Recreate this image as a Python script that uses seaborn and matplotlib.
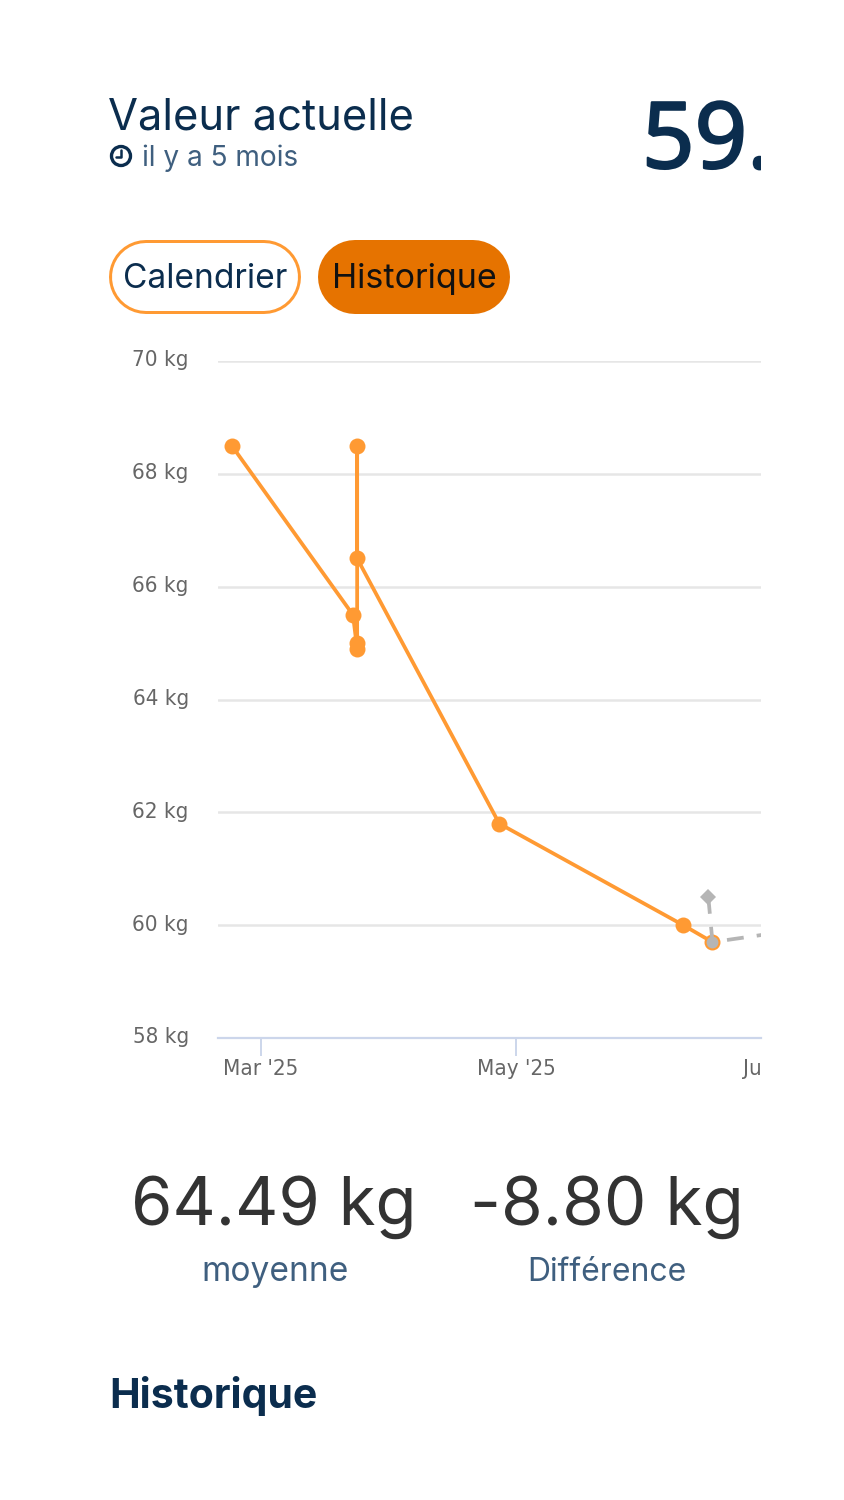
import pandas as pd
import matplotlib
matplotlib.use('Agg')
import matplotlib.pyplot as plt
import matplotlib.dates as mdates
import matplotlib.patheffects as pe
from matplotlib.patches import Circle, Rectangle
from matplotlib.transforms import ScaledTranslation
import seaborn as sns

# data
dates = ['2025-02-22', '2025-03-23', '2025-03-24', '2025-03-24', '2025-03-24', '2025-03-24',
         '2025-04-27', '2025-06-10', '2025-06-17']
weights = [68.5, 65.5, 64.9, 65.0, 68.5, 66.5, 61.8, 60.0, 59.7]
goal_dates = ['2025-06-16', '2025-06-17', '2025-07-01']
goal_weights = [60.5, 59.7, 59.85]
y_ticks = [58, 60, 62, 64, 66, 68, 70]
x_ticks = ['2025-03-01', '2025-05-01']
x_labels = ["Mar '25", "May '25"]

NAVY = '#0b2d4e'
SLATE = '#3f5f7f'
ORANGE = '#ff9a33'
DARK_ORANGE = '#e67300'
GREY = '#b5b5b5'
AXIS = '#ccd6eb'
LABEL = '#666666'
W, H = 844, 1500

sns.set_theme(style='white')
plt.rcParams['font.family'] = ['Inter', 'DejaVu Sans']

df = pd.DataFrame({'date': pd.to_datetime(dates), 'kg': weights})
goal = pd.DataFrame({'date': pd.to_datetime(goal_dates), 'kg': goal_weights})

fig = plt.figure(figsize=(W / 100, H / 100), dpi=100, facecolor='white')

# chart area in pixels: x 218-761, y 361-1038
ax = fig.add_axes([218 / W, 1 - 1038 / H, (761 - 218) / W, (1038 - 361) / H])
sns.lineplot(data=df, x='date', y='kg', sort=False, estimator=None, ax=ax, color=ORANGE,
             linewidth=2.7, marker='o', markersize=11.5, markeredgewidth=0, zorder=3, clip_on=False)
sns.lineplot(data=goal, x='date', y='kg', sort=False, estimator=None, ax=ax, color=GREY,
             linewidth=2.7, linestyle=(0, (4.5, 3.5)), zorder=4)
ax.plot(goal['date'][:1], goal['kg'][:1], marker='D', ms=8.5, color=GREY, mew=0, zorder=5)
ax.plot(goal['date'][1:2], goal['kg'][1:2], marker='o', ms=8.5, color=GREY, mew=0, zorder=5)

ax.set_xlabel('')
ax.set_ylabel('')
tick_font = dict(family='DejaVu Sans', stretch='condensed', fontsize=16, color=LABEL)
ax.set_yticks(y_ticks)
ax.set_yticklabels([f'{v} kg' for v in y_ticks], **tick_font)
ax.set_xticks(mdates.date2num(pd.to_datetime(x_ticks)))
ax.set_xticklabels(x_labels, **tick_font)
ax.tick_params(axis='y', left=False, length=0, pad=21)
ax.tick_params(axis='x', bottom=True, length=13, width=1.4, color=AXIS, pad=2, direction='out')
ax.grid(axis='y', color='#e6e6e6', linewidth=1.8)
ax.set_axisbelow(True)
for side in ['top', 'right', 'left']:
    ax.spines[side].set_visible(False)
ax.spines['bottom'].set_color(AXIS)
ax.spines['bottom'].set_linewidth(1.6)

# limits last, set_xticks would widen them otherwise
per_day = 255 / 61
mar1 = pd.Timestamp('2025-03-01')
ax.set_xlim(mar1 - pd.Timedelta(days=(261 - 218) / per_day), mar1 + pd.Timedelta(days=(761 - 261) / per_day))
ax.set_ylim(58, 70)

up = ScaledTranslation(0, 1.8 / 72, fig.dpi_scale_trans)
for lab in ax.get_yticklabels():
    lab.set_transform(lab.get_transform() + up)

# overlay in pixel coordinates for the page around the chart
page = fig.add_axes([0, 0, 1, 1], facecolor='none')
page.set_xlim(0, W)
page.set_ylim(H, 0)
page.axis('off')
page.set_zorder(5)

clip = Rectangle((0, 0), 761, H, transform=page.transData)


def px(size):
    return size * 0.72


def pill(x0, x1, y, height, color):
    page.plot([x0 + height / 2, x1 - height / 2], [y, y], color=color, lw=px(height),
              solid_capstyle='round')


# third tick sits past the right edge, only its label start shows
jul = page.text(774, 1075, "Jul '25", ha='center', va='baseline', clip_on=True, **tick_font)
jul.set_clip_path(clip)

page.text(108, 129, 'Valeur actuelle', fontsize=px(43.5), color=NAVY, va='baseline')
page.text(142, 166, 'il y a 5 mois', fontsize=px(28), color=SLATE, va='baseline')
big = page.text(642, 168, '59.', fontsize=px(92), color=NAVY, va='baseline', family='Noto Sans', clip_on=True)
big.set_clip_path(clip)
big.set_path_effects([pe.withStroke(linewidth=1.6, foreground=NAVY)])

# clock icon
page.add_patch(Circle((121, 156), 9.5, fc='none', ec=NAVY, lw=2.4))
page.plot([121, 121, 116], [150, 157, 157], color=NAVY, lw=1.8)

# buttons
pill(109, 301, 276.5, 74, ORANGE)
pill(112, 298, 276.5, 68, 'white')
pill(318, 510, 276.5, 74, DARK_ORANGE)
page.text(205, 288, 'Calendrier', fontsize=px(33.5), color=NAVY, ha='center', va='baseline')
page.text(414, 288, 'Historique', fontsize=px(34), color='#111111', ha='center', va='baseline')

# stats under the chart
page.text(274, 1225, '64.49 kg', fontsize=px(67), color='#333333', ha='center', va='baseline')
page.text(607, 1225, '-8.80 kg', fontsize=px(67.5), color='#333333', ha='center', va='baseline')
page.text(275, 1281, 'moyenne', fontsize=px(33.5), color=SLATE, ha='center', va='baseline')
page.text(607, 1281, 'Différence', fontsize=px(32), color=SLATE, ha='center', va='baseline')
page.text(109, 1408, 'Historique', fontsize=px(41), color=NAVY, weight='bold', va='baseline')

fig.savefig('out.png', dpi=100)
